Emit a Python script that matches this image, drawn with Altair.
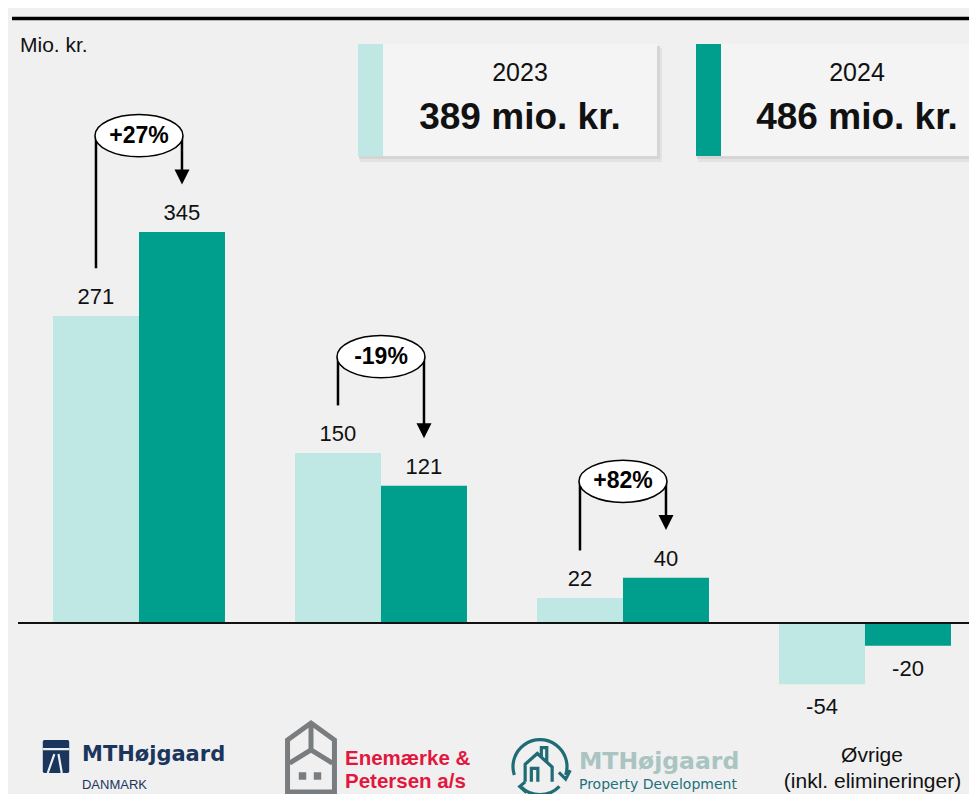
import altair as alt
import pandas as pd

# ---------------- data ----------------
categories = ["MTHøjgaard Danmark", "Enemærke & Petersen", "MTHøjgaard Property Development", "Øvrige"]
years = ["2023", "2024"]
values_2023 = [271, 150, 22, -54]
values_2024 = [345, 121, 40, -20]
changes = ["+27%", "-19%", "+82%", ""]
totals = [389, 486]
unit_label = "Mio. kr."

# ---------------- styling / layout ----------------
LIGHT = "#bfe7e3"
TEAL = "#009e8c"
FONT = "Liberation Sans"
W, H = 951, 786
PX_PER_UNIT = 1.1333
ZERO_PX = 615
y_domain = [-(H - ZERO_PX) / PX_PER_UNIT, ZERO_PX / PX_PER_UNIT]

bars_df = pd.DataFrame(
    [{"cat": c, "year": yr, "value": v, "label": str(v)}
     for c, a, b in zip(categories, values_2023, values_2024)
     for yr, v in (("2023", a), ("2024", b))]
)

x_enc = alt.X("cat:N", scale=alt.Scale(domain=categories, paddingInner=0.28926,
                                         paddingOuter=0.1095, align=0.66), axis=None)
xo_enc = alt.XOffset("year:N", scale=alt.Scale(domain=years, paddingInner=0, paddingOuter=0))
y_scale = alt.Scale(domain=y_domain, nice=False, zero=False)

layers = []

# summary boxes (top)
box_pos = [(340, 639, 365, 502), (678, 951, 703, 839)]
one = pd.DataFrame({"a": [0]})
for (x1, x2, xs, cx), yr, tot, col in zip(box_pos, years, totals, [LIGHT, TEAL]):
    layers.append(alt.Chart(one).mark_rect(color="#e3e3e3").encode(
        x=alt.value(x1 + 2), x2=alt.value(x2 + 5), y=alt.value(40), y2=alt.value(154)))
    layers.append(alt.Chart(one).mark_rect(color="#d5d5d5").encode(
        x=alt.value(x1 + 1), x2=alt.value(x2 + 3), y=alt.value(38), y2=alt.value(151)))
    layers.append(alt.Chart(one).mark_rect(color="#f4f4f4").encode(
        x=alt.value(x1), x2=alt.value(x2), y=alt.value(36), y2=alt.value(148)))
    layers.append(alt.Chart(one).mark_rect(color=col).encode(
        x=alt.value(x1), x2=alt.value(xs), y=alt.value(36), y2=alt.value(148)))
    bdf = pd.DataFrame({"year": [yr], "total": [f"{tot} mio. kr."]})
    layers.append(alt.Chart(bdf).mark_text(font=FONT, fontSize=25, color="#111", baseline="middle").encode(
        x=alt.value(cx), y=alt.value(65), text="year:N"))
    layers.append(alt.Chart(bdf).mark_text(font=FONT, fontSize=37, fontWeight="bold", color="#111",
                                           baseline="middle").encode(
        x=alt.value(cx), y=alt.value(110), text="total:N"))

# top rule and unit label
layers.append(alt.Chart(one).mark_rule(color="#000", strokeWidth=3.5).encode(
    x=alt.value(-6), x2=alt.value(W), y=alt.value(10.5)))
layers.append(alt.Chart(pd.DataFrame({"t": [unit_label]})).mark_text(
    font=FONT, fontSize=21, color="#111", align="left", baseline="middle").encode(
    x=alt.value(2), y=alt.value(38), text="t:N"))

# bars
layers.append(alt.Chart(bars_df).mark_bar().encode(
    x=x_enc, xOffset=xo_enc,
    y=alt.Y("value:Q", scale=y_scale, axis=None), y2=alt.datum(0),
    color=alt.Color("year:N", scale=alt.Scale(domain=years, range=[LIGHT, TEAL]), legend=None)))

# zero line
layers.append(alt.Chart(pd.DataFrame({"v": [0]})).mark_rule(color="#111", strokeWidth=1.8).encode(
    y=alt.Y("v:Q", scale=y_scale)))

# value labels
layers.append(alt.Chart(bars_df).transform_filter("datum.value >= 0").mark_text(
    font=FONT, fontSize=22, color="#111", baseline="alphabetic", dy=-12).encode(
    x=x_enc, xOffset=xo_enc, y=alt.Y("value:Q", scale=y_scale), text="label:N"))
layers.append(alt.Chart(bars_df).transform_filter("datum.value < 0").mark_text(
    font=FONT, fontSize=22, color="#111", baseline="top", dy=13).encode(
    x=x_enc, xOffset=xo_enc, y=alt.Y("value:Q", scale=y_scale), text="label:N"))

# change annotations
ann = [(c, ch, a, b) for c, ch, a, b in zip(categories, changes, values_2023, values_2024) if ch]
rule_rows, tip_rows, oval_rows = [], [], []
for c, ch, a, b in ann:
    oval_y = max(a, b) + 85
    rule_rows.append({"cat": c, "year": "2023", "y": a + 42, "y2": oval_y})
    rule_rows.append({"cat": c, "year": "2024", "y": oval_y, "y2": b + 46})
    tip_rows.append({"cat": c, "year": "2024", "y": b + 42 + 7.5 / PX_PER_UNIT})
    oval_rows.append({"cat": c, "label": ch, "y": oval_y})
rules_df = pd.DataFrame(rule_rows)
tips_df = pd.DataFrame(tip_rows)
ovals_df = pd.DataFrame(oval_rows)

layers.append(alt.Chart(rules_df).mark_rule(color="#000", strokeWidth=2.5).encode(
    x=x_enc, xOffset=xo_enc, y=alt.Y("y:Q", scale=y_scale), y2="y2:Q"))
layers.append(alt.Chart(tips_df).mark_point(shape="M-1,-1L1,-1L0,1Z", size=225, filled=True,
                                            color="#000", opacity=1).encode(
    x=x_enc, xOffset=xo_enc, y=alt.Y("y:Q", scale=y_scale)))
ELLIPSE = "M-1,0A1,0.48,0,1,1,1,0A1,0.48,0,1,1,-1,0Z"
layers.append(alt.Chart(ovals_df).mark_point(shape=ELLIPSE, size=7744, filled=True, fill="white",
                                             stroke="#000", strokeWidth=1.5, opacity=1).encode(
    x=x_enc, y=alt.Y("y:Q", scale=y_scale)))
layers.append(alt.Chart(ovals_df).mark_text(font=FONT, fontSize=23, fontWeight="bold", color="#000",
                                            baseline="middle").encode(
    x=x_enc, y=alt.Y("y:Q", scale=y_scale), text="label:N"))


# category labels (logos rendered as text)
def cat_text(cat, text, dx, y, size, color, weight="normal", font=FONT, align="left"):
    d = pd.DataFrame({"cat": [cat], "t": [text]})
    return alt.Chart(d).mark_text(align=align, baseline="middle", dx=dx, fontSize=size, color=color,
                                  fontWeight=weight, font=font).encode(
        x=x_enc, y=alt.value(y), text="t:N")


NAVY = "#1b365d"
layers.append(cat_text(categories[0], "MTHøjgaard", -57, 747, 21, NAVY, "bold", "DejaVu Sans"))
layers.append(cat_text(categories[0], "DANMARK", -57, 777, 13, NAVY))
layers.append(cat_text(categories[1], "Enemærke &", -36, 751, 20.5, "#e3173e", "bold"))
layers.append(cat_text(categories[1], "Petersen a/s", -36, 774, 20.5, "#e3173e", "bold"))
layers.append(cat_text(categories[2], "MTHøjgaard", -44, 754, 23.5, "#a9c4c1", "bold", "DejaVu Sans"))
layers.append(cat_text(categories[2], "Property Development", -44, 777, 14, "#23707a", "normal", "DejaVu Sans"))
layers.append(cat_text(categories[3], "Øvrige", 7, 748, 21, "#111", align="center"))
layers.append(cat_text(categories[3], "(inkl. elimineringer)", 7.5, 774, 21, "#111", align="center"))


# logo icons
def icon(path, x, y, size, stroke=None, fill=None, sw=1.0):
    kw = dict(shape=path, size=size, opacity=1, strokeWidth=sw)
    if fill:
        kw.update(filled=True, fill=fill)
    else:
        kw.update(filled=False, fill="transparent")
    if stroke:
        kw.update(stroke=stroke)
    else:
        kw.update(strokeWidth=0)
    return alt.Chart(one).mark_point(**kw).encode(x=alt.value(x), y=alt.value(y))


RRECT = ("M-0.7,-1L0.7,-1Q0.8,-1 0.8,-0.9L0.8,0.9Q0.8,1 0.7,1L-0.7,1Q-0.8,1 -0.8,0.9"
         "L-0.8,-0.9Q-0.8,-1 -0.7,-1Z")
layers.append(icon(RRECT, 38, 748.5, 1089, fill=NAVY))
layers.append(icon("M-0.8,-0.45L0.8,-0.45M-0.1,-0.15L-0.5,1M0.15,-0.15L0.35,1", 38, 748.5, 1089,
                   stroke="#f0f0f0", sw=2.2))
HOUSE = ("M-0.68,1L-0.68,-0.51L0,-1L0.68,-0.51L0.68,1Z"
         "M0,-1L0,-0.22M0,-0.22L-0.62,0.16M0,-0.22L0.62,0.16")
layers.append(icon(HOUSE, 293, 749.5, 4761, stroke="#7a7d7f", sw=5))
layers.append(icon("square", 284.5, 768, 56, fill="#7a7d7f"))
layers.append(icon("square", 299.5, 768, 56, fill="#7a7d7f"))
CIRC = ("M-0.95,0.3A1,1,0,1,1,0.95,0.3M0.7,0.2L0.95,0.45L1.12,0.12"
        "M0.72,0.72A1,1,0,0,1,-0.72,0.72M-0.55,0.55L-0.75,0.72L-0.5,0.95"
        "M-0.55,0.55L-0.55,-0.1L-0.1,-0.5L0.45,0L0.45,0.55"
        "M-0.32,0.55L-0.32,0.05L-0.08,0.05L-0.08,0.55M0.05,-0.38L0.05,-0.72L0.25,-0.72L0.25,-0.2")
layers.append(icon(CIRC, 522, 759, 2916, stroke="#1f6c74", sw=3.2))

chart = alt.layer(*layers).properties(
    width=W, height=H,
    padding={"left": 10, "right": 0, "top": 0, "bottom": 0},
    autosize=alt.AutoSizeParams(type="none"),
    background="#f0f0f0",
).configure_view(stroke=None)

chart.save("out.html", embed_options={"renderer": "svg", "actions": False})
